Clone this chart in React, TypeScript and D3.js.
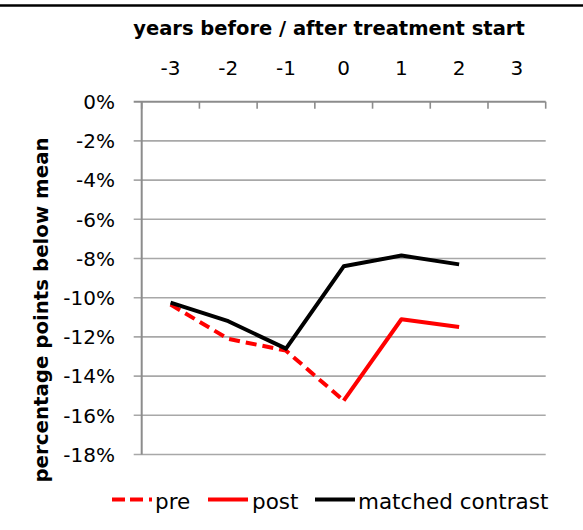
import * as React from 'react'
import * as d3 from 'd3'

// categories (years relative to treatment start)
const years = [-3, -2, -1, 0, 1, 2, 3]
const yTicks = [0, -2, -4, -6, -8, -10, -12, -14, -16, -18]

// percentage points below mean
const preYears = [-3, -2, -1, 0]
const preValues = [-10.35, -12.1, -12.7, -15.25]
const postYears = [0, 1, 2]
const postValues = [-15.25, -11.1, -11.5]
const matchedYears = [-3, -2, -1, 0, 1, 2]
const matchedValues = [-10.25, -11.2, -12.6, -8.4, -7.85, -8.3]

const W = 583
const H = 530
const margin = {left: 141.7, right: 37.3, top: 101.7, bottom: 75.5}
const FONT = "'DejaVu Sans', sans-serif"

export default function App() {
  const x = d3.scaleBand<number>()
    .domain(years)
    .range([margin.left, W - margin.right])
  const y = d3.scaleLinear().domain([-18, 0]).range([H - margin.bottom, margin.top])
  const cx = (d: number) => (x(d) as number) + x.bandwidth() / 2

  const line = d3.line<[number, number]>()
    .x(d => cx(d[0]))
    .y(d => y(d[1]))

  const series = [
    {name: 'pre', pts: preYears.map((v, i) => [v, preValues[i]] as [number, number]), color: '#ff0000', dash: '11,6'},
    {name: 'post', pts: postYears.map((v, i) => [v, postValues[i]] as [number, number]), color: '#ff0000', dash: null},
    {name: 'matched contrast', pts: matchedYears.map((v, i) => [v, matchedValues[i]] as [number, number]), color: '#000000', dash: null},
  ]

  const [x0, x1] = x.range()
  const boundaries = years.map(d => x(d) as number).concat([x1])

  // legend layout
  const legend = [
    {x1: 112, x2: 152, tx: 155, label: 'pre', color: '#ff0000', dash: '13,5,13,6,3'},
    {x1: 208, x2: 248, tx: 252, label: 'post', color: '#ff0000', dash: null},
    {x1: 315, x2: 355, tx: 358, label: 'matched contrast', color: '#000000', dash: null},
  ]
  const legendY = 499.5

  return (
    <svg width={W} height={H} style={{position: 'absolute', left: 0, top: 0, background: '#fff'}} fontFamily={FONT}>
      <rect width={W} height={H} fill="#fff" />
      <line x1={0} x2={W} y1={5.5} y2={5.5} stroke="#000" strokeWidth={2.5} />

      {/* gridlines */}
      {yTicks.map(t => (
        <g key={t}>
          <line x1={x0 - 8} x2={x1} y1={y(t)} y2={y(t)} stroke={t === 0 ? '#8c8c8c' : '#a8a8a8'} strokeWidth={t === 0 ? 2 : 1.6} />
          <text x={115} y={y(t)} dy="0.36em" textAnchor="end" fontSize={20} fill="#000">{`${t}%`}</text>
        </g>
      ))}

      {/* left axis */}
      <line x1={x0} x2={x0} y1={y(0)} y2={y(-18)} stroke="#8c8c8c" strokeWidth={2} />

      {/* top category axis */}
      {boundaries.map((b, i) => (
        <line key={i} x1={b} x2={b} y1={y(0)} y2={y(0) + 7} stroke="#8c8c8c" strokeWidth={1.6} />
      ))}
      {years.map(d => (
        <text key={d} x={cx(d)} y={75} textAnchor="middle" fontSize={20} fill="#000">{d}</text>
      ))}
      <text x={329} y={35} textAnchor="middle" fontSize={19.5} fontWeight="bold" fill="#000">
        years before / after treatment start
      </text>
      <text transform={`translate(48,310) rotate(-90)`} textAnchor="middle" fontSize={19.8} fontWeight="bold" fill="#000">
        percentage points below mean
      </text>

      {/* series */}
      {series.map(s => (
        <path key={s.name} d={line(s.pts) || ''} fill="none" stroke={s.color} strokeWidth={4}
          strokeLinejoin="round" strokeDasharray={s.dash || undefined} />
      ))}

      {/* legend */}
      {legend.map(l => (
        <g key={l.label}>
          <line x1={l.x1} x2={l.x2} y1={legendY} y2={legendY} stroke={l.color} strokeWidth={4} strokeDasharray={l.dash || undefined} />
          <text x={l.tx} y={508.5} fontSize={21.5} fill="#000">{l.label}</text>
        </g>
      ))}
    </svg>
  )
}
